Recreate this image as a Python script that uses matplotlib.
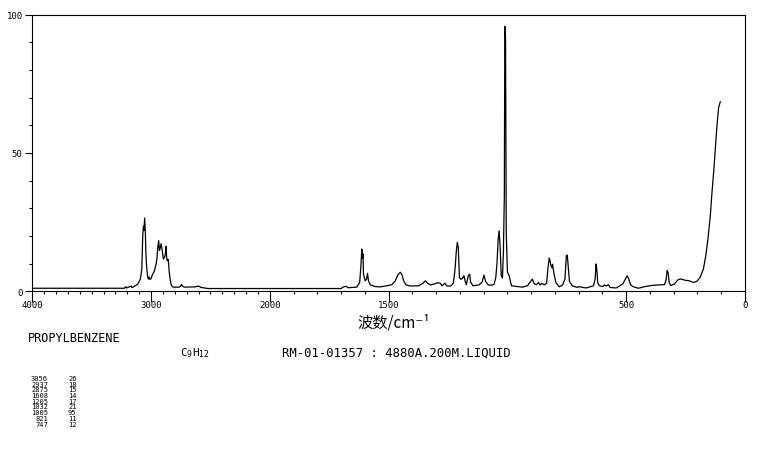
# Raman spectrum of propylbenzene, redrawn in the old chart style
import numpy as np
import matplotlib
matplotlib.use("Agg")
import matplotlib.pyplot as plt

# spectrum (wavenumber cm-1, intensity)
wavenumber = [
    4000, 3400, 3225, 3212, 3205, 3168, 3160, 3112, 3090, 3078,
    3070, 3064, 3060, 3054, 3048, 3044, 3038, 3030, 3023, 3017,
    3010, 3000, 2987, 2972, 2958, 2950, 2945, 2936, 2930, 2925,
    2916, 2908, 2900, 2897, 2886, 2880, 2875, 2868, 2864, 2855,
    2847, 2833, 2820, 2805, 2763, 2750, 2744, 2736, 2721, 2630,
    2600, 2580, 2537, 2520, 1700, 1690, 1680, 1670, 1634, 1622,
    1617, 1613, 1610, 1608, 1606, 1599, 1593, 1589, 1585, 1577,
    1556, 1535, 1507, 1486, 1472, 1461, 1451, 1444, 1437, 1427,
    1408, 1373, 1356, 1345, 1336, 1324, 1306, 1292, 1282, 1275,
    1263, 1255, 1239, 1228, 1221, 1215, 1211, 1207, 1202, 1196,
    1189, 1183, 1177, 1173, 1165, 1159, 1155, 1145, 1120, 1106,
    1099, 1092, 1081, 1064, 1056, 1049, 1044, 1039, 1035, 1031,
    1026, 1021, 1017, 1013, 1011, 1008, 1005, 1000, 993, 983,
    965, 937, 916, 902, 895, 887, 878, 869, 863, 855,
    845, 835, 829, 824, 821, 817, 813, 810, 804, 796,
    782, 768, 758, 752, 748, 744, 739, 726, 705, 701,
    669, 638, 631, 627, 624, 620, 613, 599, 592, 585,
    575, 568, 542, 514, 504, 496, 489, 482, 472, 449,
    421, 393, 368, 339, 332, 328, 324, 319, 313, 297,
    283, 272, 252, 235, 217, 203, 189, 175, 165, 156,
    146, 140, 132, 125, 118, 111, 104,
]
intensity = [
    1.1, 1.1, 1.1, 1.7, 1.2, 1.9, 1.3, 2.6, 4.5, 8.0,
    20.5, 23.5, 22.0, 26.5, 21.0, 14.0, 9.2, 5.5, 4.4, 5.2,
    4.3, 4.6, 6.2, 7.3, 9.8, 12.0, 15.3, 18.3, 14.8, 15.3,
    17.2, 15.3, 12.5, 11.7, 12.4, 13.5, 16.3, 12.0, 11.0, 11.5,
    6.8, 2.6, 1.6, 1.5, 1.5, 2.0, 2.5, 1.9, 1.5, 1.6,
    1.9, 1.4, 1.1, 1.0, 1.0, 1.6, 1.8, 1.3, 1.5, 3.2,
    8.7, 15.3, 12.0, 13.5, 6.3, 3.8, 4.4, 6.5, 3.8, 2.3,
    1.7, 1.6, 2.0, 2.4, 3.8, 6.0, 6.9, 6.0, 3.8, 2.3,
    1.9, 2.0, 2.9, 3.8, 2.9, 2.3, 2.7, 3.1, 2.9, 2.0,
    2.9, 1.9, 1.9, 2.9, 7.5, 14.7, 17.7, 16.0, 5.0, 4.3,
    4.7, 5.6, 3.3, 2.4, 5.6, 6.2, 3.3, 2.0, 2.3, 3.4,
    5.9, 3.6, 2.3, 2.2, 2.6, 5.0, 10.0, 18.9, 21.9, 16.5,
    5.6, 4.8, 14.1, 34.6, 95.8, 91.8, 21.4, 6.9, 5.7, 2.0,
    1.8, 1.5, 2.0, 3.6, 4.4, 2.7, 2.4, 3.2, 2.3, 2.9,
    2.3, 2.9, 8.7, 12.0, 11.2, 9.3, 8.5, 9.8, 6.3, 3.1,
    1.6, 2.3, 4.4, 12.9, 13.1, 8.7, 3.6, 1.9, 1.4, 1.7,
    1.2, 2.0, 4.4, 9.9, 8.1, 3.1, 2.0, 1.7, 2.3, 1.9,
    2.4, 1.4, 1.2, 2.7, 4.4, 5.6, 4.4, 2.4, 1.7, 1.1,
    1.7, 2.1, 2.3, 2.4, 4.2, 7.5, 6.9, 3.2, 2.1, 2.6,
    4.1, 4.5, 4.0, 3.8, 3.2, 3.6, 5.0, 8.1, 12.9, 18.9,
    27.3, 34.6, 43.0, 51.4, 59.9, 66.5, 68.5,
]

# peak table printed under the chart
peak_wn = ["3056", "2937", "2875", "1608", "1205", "1032", "1005", "821", "747"]
peak_int = ["26", "18", "15", "14", "17", "21", "95", "11", "12"]

x_major = [4000, 3000, 2000, 1500, 500, 0]
y_major = [0, 50, 100]

W, H = 761, 477


# scale doubles below 2000 cm-1
def fwd(w):
    w = np.asarray(w, dtype=float)
    return np.where(w <= 2000, w / 500.0, 4 + (w - 2000) / 1000.0)


def inv(p):
    p = np.asarray(p, dtype=float)
    return np.where(p <= 4, p * 500.0, 2000 + (p - 4) * 1000.0)


fig = plt.figure(figsize=(W / 100, H / 100), dpi=100)
ax = fig.add_axes([32.3 / W, 1 - 292.3 / H, (745 - 32.3) / W, (292.3 - 15.7) / H])
ax.set_xscale('function', functions=(fwd, inv))
ax.plot(wavenumber, intensity, color='k', lw=0.9)
ax.set_xlim(4000, 0)
ax.set_ylim(0, 100)

for s in ax.spines.values():
    s.set_linewidth(0.8)

ax.set_xticks(x_major)
ax.set_xticklabels([str(v) for v in x_major])
ax.set_xticks([v for v in range(0, 4001, 100) if v not in x_major], minor=True)
ax.set_yticks(y_major)
ax.set_yticklabels([str(v) for v in y_major])
ax.set_yticks(range(0, 101, 10), minor=True)

ax.tick_params(axis='x', which='major', direction='out', length=8, width=0.8,
               pad=-1.5, labelsize=6.5)
ax.tick_params(axis='x', which='minor', direction='out', length=2.5, width=0.8)
ax.tick_params(axis='y', which='major', direction='out', length=5, width=0.8,
               pad=2, labelsize=6.5)
ax.tick_params(axis='y', which='minor', direction='out', length=2, width=0.8)
for lab in ax.get_xticklabels() + ax.get_yticklabels():
    lab.set_family('DejaVu Sans Mono')


def ftext(px, py, s, **kw):
    fig.text(px / W, 1 - py / H, s, **kw)


ftext(394, 323, "波数/cm⁻¹", ha='center', va='center', fontsize=11,
      family=['Noto Sans CJK SC', 'DejaVu Sans'])
ftext(28, 338, "PROPYLBENZENE", va='center', fontsize=8.6, family='DejaVu Sans Mono')
ftext(180, 353, "C$_9$H$_{12}$", va='center', fontsize=8, family='DejaVu Sans Mono')
ftext(282, 353, "RM-01-01357 : 4880A.200M.LIQUID", va='center', fontsize=8.8,
      family='DejaVu Sans Mono')

# peak table as two text blocks
ftext(48, 376, "\n".join(peak_wn), ha='right', va='top', fontsize=5,
      family='DejaVu Sans Mono', multialignment='right', linespacing=0.94)
ftext(68, 376, "\n".join(peak_int), ha='left', va='top', fontsize=5,
      family='DejaVu Sans Mono', linespacing=0.94)

fig.savefig("out.png", dpi=100)
